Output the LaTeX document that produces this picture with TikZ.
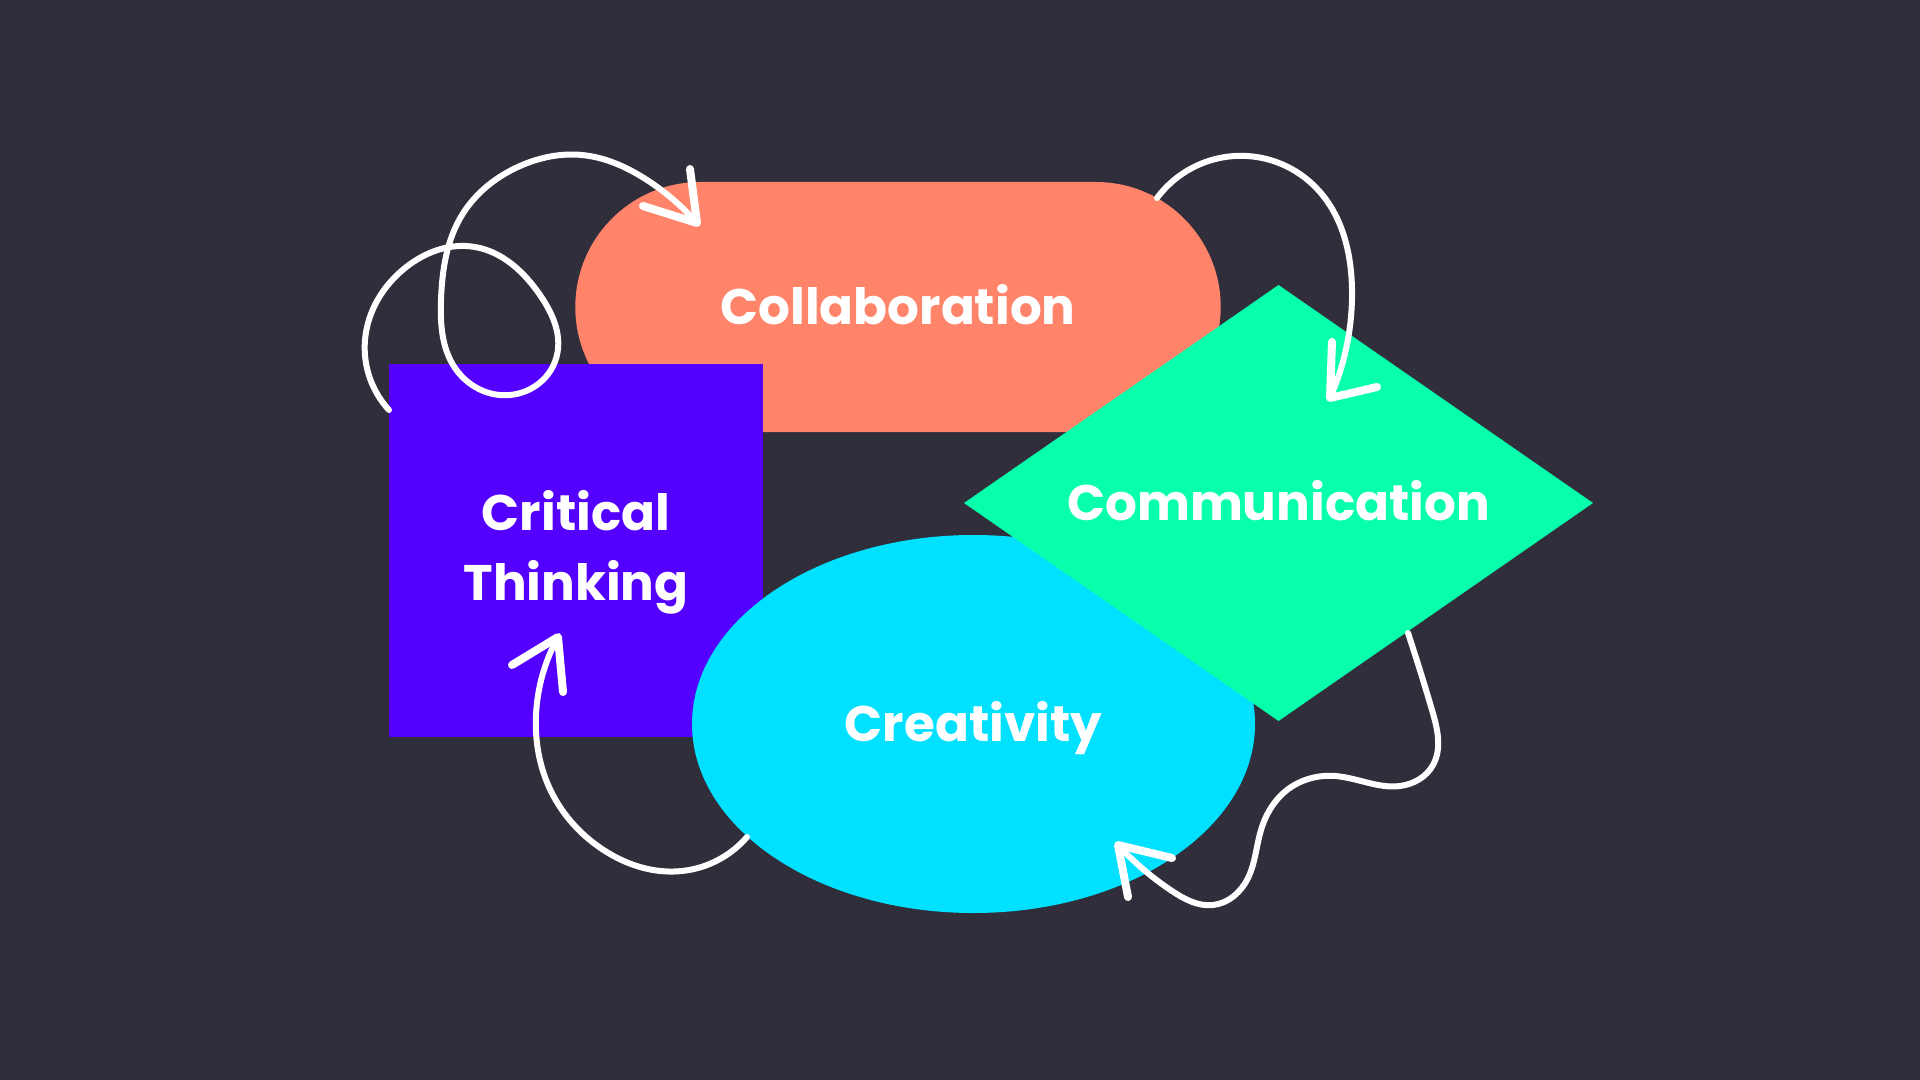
\documentclass[tikz,border=0pt]{standalone}
\usepackage{fontspec}
\setmainfont{Poppins}
\usetikzlibrary{shapes.geometric,hobby}
\definecolor{bgc}{HTML}{312E3B}
\definecolor{salmon}{HTML}{FF8469}
\definecolor{violet}{HTML}{5300FF}
\definecolor{mint}{HTML}{08FFAC}
\definecolor{skyc}{HTML}{00E0FF}
\tikzset{
  shapebase/.style={inner sep=0pt, outer sep=0pt, text=white, font=\bfseries\fontsize{25}{35}\selectfont},
  pill/.style={shapebase, fill=salmon, rounded corners=62.5pt, minimum width=322.7pt, minimum height=125pt, text height=17.5pt, text depth=0pt},
  sqbox/.style={shapebase, fill=violet, minimum width=187pt, minimum height=186.5pt},
  dia/.style={shapebase, diamond, aspect=1.445, fill=mint, minimum width=314.5pt, minimum height=218pt, text height=17.5pt, text depth=0pt},
  ell/.style={shapebase, ellipse, fill=skyc, text height=17.5pt, text depth=0pt},
  loopline/.style={white, line width=3pt, line cap=round, line join=round, use Hobby shortcut},
  headline/.style={white, line width=4pt, line cap=round, line join=round}
}
\begin{document}
\begin{tikzpicture}[x=0.5pt,y=-0.5pt]
\fill[bgc] (0,0) rectangle (1920,1080);
\useasboundingbox (0,0) rectangle (1920,1080);
% shapes
\node[pill] (col) at (898,307) {Collaboration};
\node[sqbox] (ct) at (576,550.5) {};
\node[shapebase, align=center] (cttext) at (576,552) {Critical\\Thinking};
\node[ell, minimum width=281.5pt, minimum height=189pt] (cre) at (973.5,724) {Creativity};
\node[dia] (com) at (1278.5,503) {Communication};
% curve 1 (top-left loop to Collaboration)
\coordinate (c1s) at (389,410);
\coordinate (c1t) at (697,223);
\coordinate (h1a) at (643,206);
\coordinate (h1b) at (690,169);
\draw[loopline] (c1s) .. (365,340) .. (405,268) .. (475,247) .. (540,295) .. (557,355) .. (510,395) .. (455,368) .. (441,300) .. (462,215) .. (520,166) .. (582,155) .. (647,180) .. (c1t);
\draw[headline] (h1a) -- (c1t) -- (h1b);
% curve 2 (Collaboration to Communication)
\coordinate (c2s) at (1157,198);
\coordinate (c2t) at (1330,398);
\coordinate (h2a) at (1332,342);
\coordinate (h2b) at (1377,387);
\draw[loopline] (c2s) .. (1247,156) .. (1320,192) .. (1352,290) .. (c2t);
\draw[headline] (h2a) -- (c2t) -- (h2b);
% curve 3 (Communication to Creativity)
\coordinate (c3s) at (1408,633);
\coordinate (c3t) at (1118,845);
\coordinate (h3a) at (1172,858);
\coordinate (h3b) at (1128,897);
\draw[loopline] (c3s) .. (1432,710) .. (1433,765) .. (1400,786) .. (1335,776) .. (1287,790) .. (1261,830) .. (1248,878) .. (1213,905) .. (1172,891) .. (c3t);
\draw[headline] (h3a) -- (c3t) -- (h3b);
% curve 4 (Creativity to Critical Thinking)
\coordinate (c4s) at (747,837);
\coordinate (c4t) at (558,637);
\coordinate (h4a) at (512,665);
\coordinate (h4b) at (563,692);
\draw[loopline] (c4s) .. (682,871) .. (602,849) .. (549,787) .. (536,715) .. (c4t);
\draw[headline] (h4a) -- (c4t) -- (h4b);
\end{tikzpicture}
\end{document}
